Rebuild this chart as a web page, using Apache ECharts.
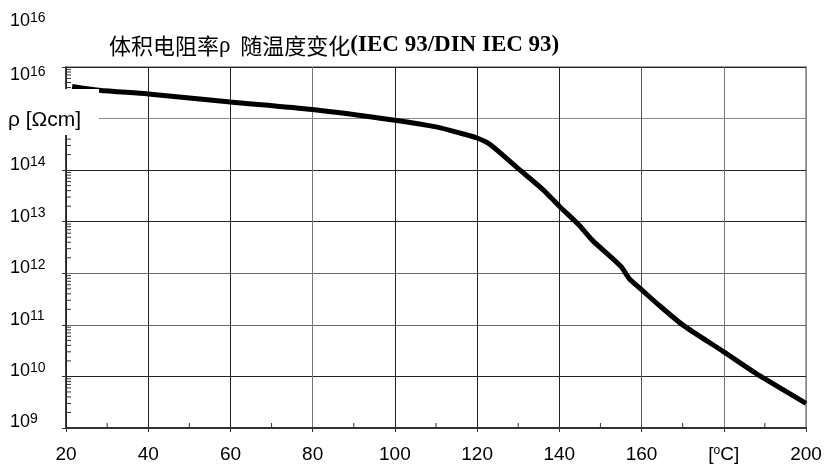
<!DOCTYPE html>
<html><head><meta charset="utf-8">
<script src="https://cdn.jsdelivr.net/npm/echarts@6/dist/echarts.min.js"></script>
<style>html,body{margin:0;padding:0;background:#fff}#c{width:825px;height:472px}</style>
</head><body><div id="c"></div>
<script>
// ---- data ----
const temperatures = [21.5, 28, 40, 60, 80, 100, 110, 116, 120, 123, 130, 136, 140, 145, 148, 155, 157, 160, 164, 170, 180, 189, 200];
const resistivity = [4.2e15, 3.55e15, 3.0e15, 2.1e15, 1.5e15, 9.3e14, 6.9e14, 5.2e14, 4.2e14, 3.2e14, 1.07e14, 4.2e13, 2.0e13, 8.3e12, 4.4e12, 1.35e12, 7.9e11, 4.8e11, 2.5e11, 1.0e11, 3.0e10, 1.0e10, 3.0e9];
const xTickValues = [20, 40, 60, 80, 100, 120, 140, 160, 180, 200];
const xTickLabels = ['20', '40', '60', '80', '100', '120', '140', '160', '[oC]', '200'];
const yTickExponents = [9, 10, 11, 12, 13, 14, 15, 16];
const yTickLabels = ['9', '10', '11', '12', '13', '14', '', '16'];
const titleParts = ['体积电阻率', 'ρ', '  随温度变化', '(IEC 93/DIN IEC 93)'];
const yAxisName = 'ρ [Ωcm]';
const strayLabel = ['10', '16'];

const curve = temperatures.map((t, i) => [t, resistivity[i]]);

const chart = echarts.init(document.getElementById('c'), null, {renderer: 'canvas'});
const numFont = 'Liberation Sans';

function yFmt(v) {
  const e = Math.round(Math.log10(v));
  const i = yTickExponents.indexOf(e);
  if (i < 0 || !yTickLabels[i]) return '';
  const core = '{b|10}{s|' + yTickLabels[i] + '}';
  if (e === 16) return '{sp17| }\n' + core;
  if (e === 9) return core + '\n{sp11| }';
  return core + '\n{sp10| }';
}
function xFmt(v) {
  const i = xTickValues.indexOf(Math.round(v));
  if (i < 0) return '';
  const l = xTickLabels[i];
  if (l === '[oC]') return '{u|[}{d|o}{u|C]}\n{sp6| }';
  return '{u|' + l + '}';
}

function renderTicks(params, api) {
  const children = [];
  const st = {stroke: '#333', lineWidth: 1};
  for (let e = 9; e < 16; e++) {
    for (let k = 2; k <= 9; k++) {
      const p = api.coord([20, k * Math.pow(10, e)]);
      children.push({type: 'line', shape: {x1: p[0], y1: p[1], x2: p[0] + 5, y2: p[1]}, style: st});
    }
  }
  for (let t = 30; t < 200; t += 20) {
    const p = api.coord([t, 1e9]);
    children.push({type: 'line', shape: {x1: p[0], y1: p[1], x2: p[0], y2: p[1] - 5}, style: st});
  }
  return {type: 'group', children: children};
}

const supRich = {
  b: {fontFamily: numFont, fontSize: 18, color: '#000', fill: '#000', lineHeight: 20},
  s: {fontFamily: numFont, fontSize: 14, color: '#000', fill: '#000', lineHeight: 20, padding: [0, 0, 7, 0]}
};

const option = {
  animation: false,
  backgroundColor: '#fff',
  title: {
    text: '{c|' + titleParts[0] + '}{g|' + titleParts[1] + '}{c|' + titleParts[2] + '}{e|' + titleParts[3] + '}',
    left: 109, top: 34, padding: 0,
    textStyle: {
      fontWeight: 'normal',
      rich: {
        c: {fontFamily: 'Noto Sans CJK SC', fontSize: 22, color: '#000', fontWeight: 'normal'},
        g: {fontFamily: 'Liberation Serif', fontSize: 23, color: '#000', fontWeight: 'normal'},
        e: {fontFamily: 'Liberation Serif', fontSize: 23, fontWeight: 'bold', color: '#000'}
      }
    }
  },
  grid: {left: 66, right: 19, top: 67, bottom: 38, show: true, borderColor: '#888', borderWidth: 1.5, backgroundColor: 'transparent'},
  xAxis: {
    type: 'value', min: 20, max: 200, interval: 20,
    axisLine: {show: true, onZero: false, lineStyle: {color: '#333', width: 2}},
    axisTick: {show: true, length: 4, lineStyle: {color: '#333'}},
    axisLabel: {
      margin: 16, formatter: xFmt,
      rich: {
        u: {fontFamily: numFont, fontSize: 19, color: '#000', lineHeight: 22},
        d: {fontFamily: numFont, fontSize: 12, color: '#000', lineHeight: 22, padding: [0, 0, 9, 0]},
        sp6: {fontSize: 6, lineHeight: 6, height: 6}
      }
    },
    splitLine: {show: true, lineStyle: {width: 1, color: ['#222', '#222', '#222', '#777', '#222', '#222', '#222', '#555', '#777', '#888']}}
  },
  yAxis: {
    type: 'log', logBase: 10, min: 1e9, max: 1e16,
    axisLine: {show: true, lineStyle: {color: '#222', width: 1.5}},
    axisTick: {show: true, length: 4, lineStyle: {color: '#333'}},
    axisLabel: {
      margin: 56, align: 'left', formatter: yFmt,
      rich: Object.assign({
        sp10: {fontSize: 10, lineHeight: 10, height: 10},
        sp11: {fontSize: 11, lineHeight: 11, height: 11},
        sp17: {fontSize: 17, lineHeight: 17, height: 17}
      }, supRich)
    },
    splitLine: {show: true, lineStyle: {width: 1, color: ['#222', '#222', '#222', '#666', '#666', '#222', '#222', '#888']}}
  },
  graphic: [
    {type: 'rect', left: 0, top: 89, shape: {width: 99, height: 46}, style: {fill: '#fff'}, z: 100},
    {type: 'text', left: 8, top: 110, z: 101, style: {text: yAxisName, fontFamily: numFont, fontSize: 21, fill: '#000'}},
    {type: 'text', left: 10, top: 11, z: 101, style: {
      text: '{b|' + strayLabel[0] + '}{s|' + strayLabel[1] + '}',
      rich: supRich
    }}
  ],
  series: [
    {type: 'custom', renderItem: renderTicks, data: [[20, 1e9]], silent: true, z: 3},
    {type: 'line', data: curve, showSymbol: false, smooth: 0.25, lineStyle: {color: '#000', width: 5}, z: 5}
  ]
};
chart.setOption(option);
</script>
</body></html>
